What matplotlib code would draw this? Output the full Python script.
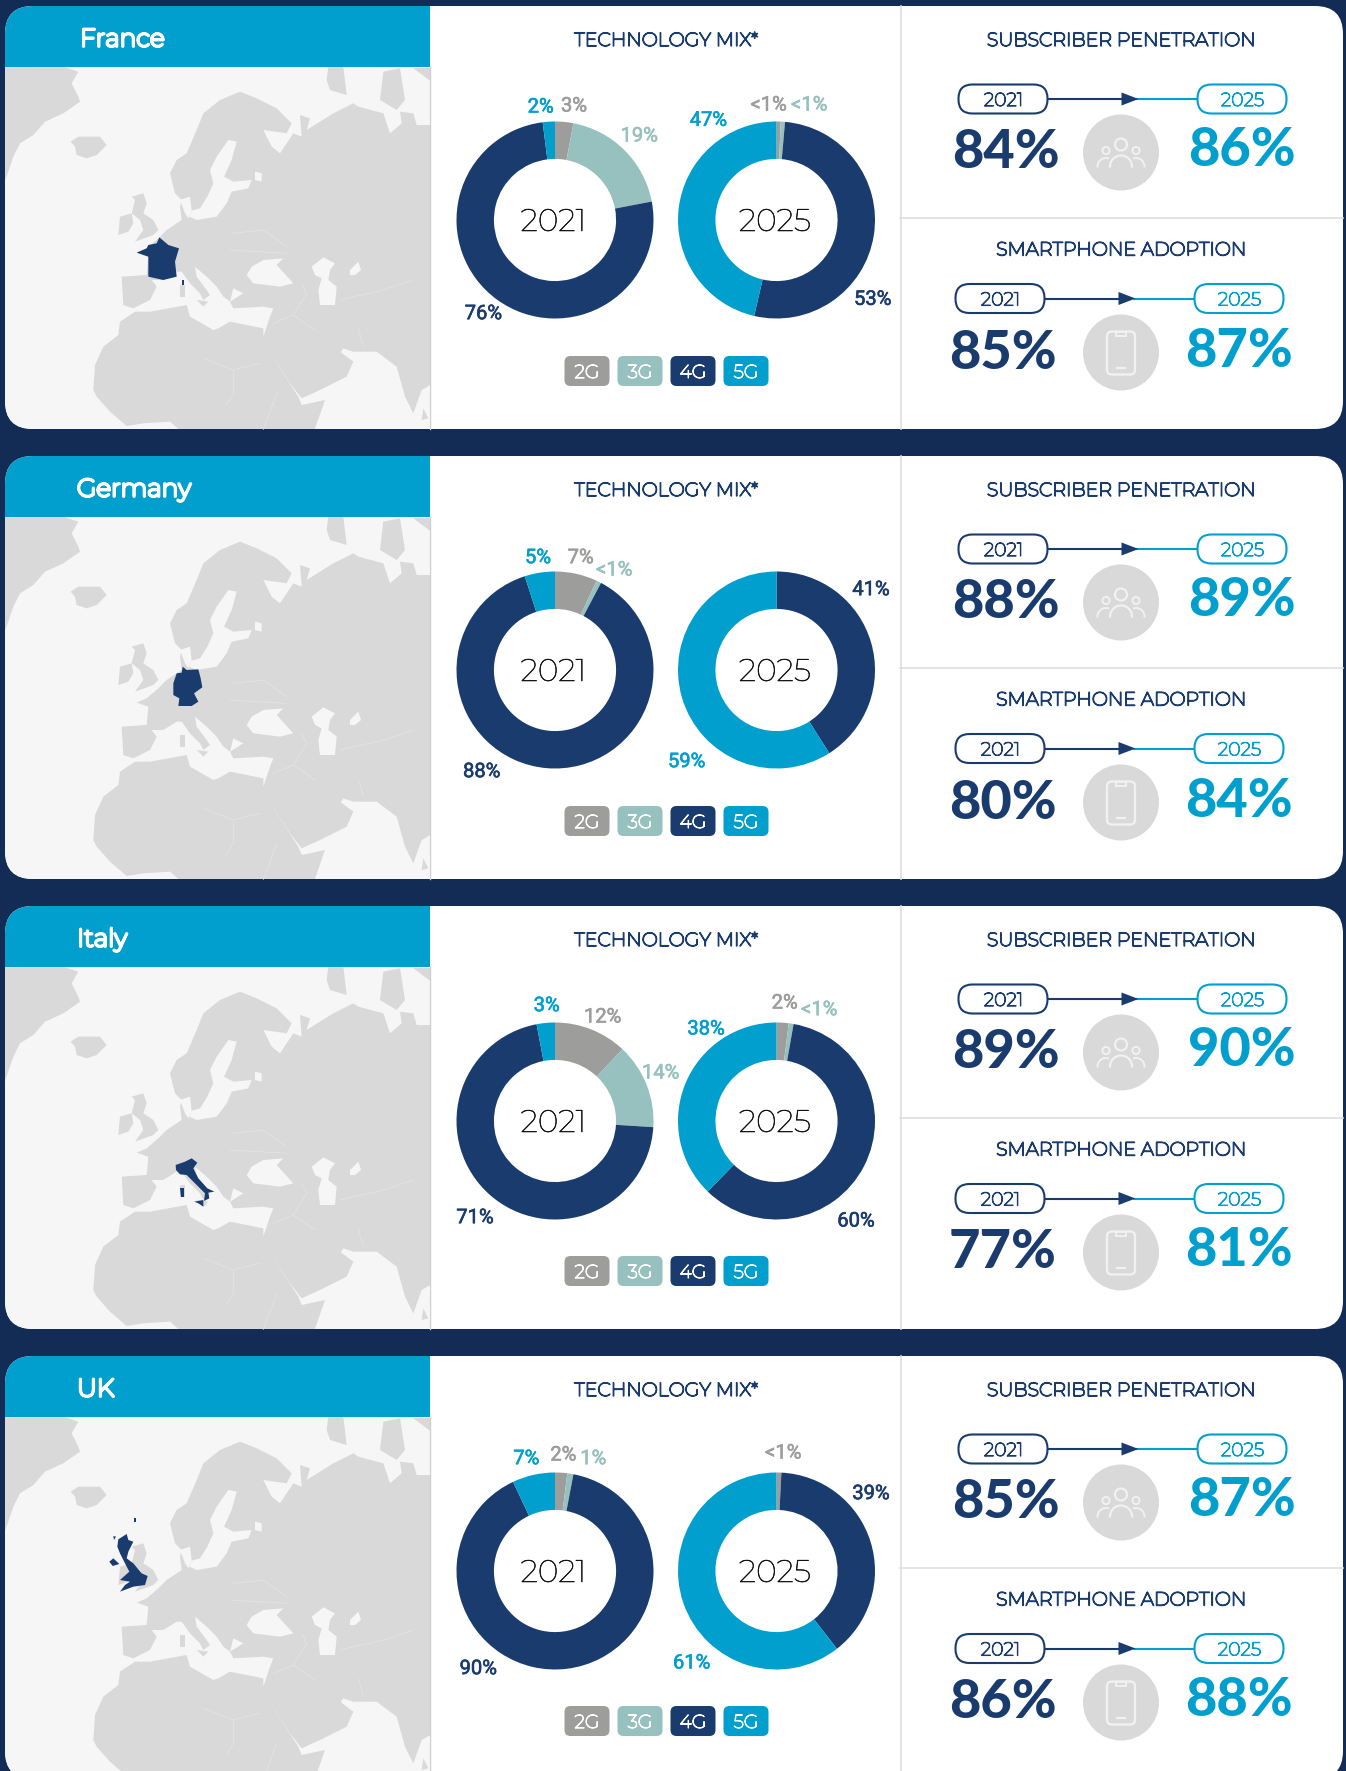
#!/usr/bin/env python3
"""
Mobile market cards: technology mix donuts plus penetration and adoption figures.
"""
import matplotlib
matplotlib.use("Agg")
import matplotlib.patheffects as pe
import matplotlib.pyplot as plt
import numpy as np
from matplotlib.patches import Circle, FancyBboxPatch, Polygon, Rectangle

W, H = 1346, 1771

COUNTRIES = ["France", "Germany", "Italy", "UK"]
TECH_NAMES = ["2G", "3G", "4G", "5G"]

# Share per technology (2G, 3G, 4G, 5G). "<1%" is drawn as an estimated sliver.
MIX_2021 = [
    [3, 19, 76, 2],
    [7, 0.8, 88, 5],
    [12, 14, 71, 3],
    [2, 1, 90, 7],
]
MIX_2025 = [
    [0.7, 0.7, 53, 47],
    [0, 0, 41, 59],
    [2, 0.8, 60, 38],
    [0.8, 0, 39, 61],
]
LABELS_2021 = [
    ["3%", "19%", "76%", "2%"],
    ["7%", "<1%", "88%", "5%"],
    ["12%", "14%", "71%", "3%"],
    ["2%", "1%", "90%", "7%"],
]
LABELS_2025 = [
    ["<1%", "<1%", "53%", "47%"],
    [None, None, "41%", "59%"],
    ["2%", "<1%", "60%", "38%"],
    ["<1%", None, "39%", "61%"],
]

SUBSCRIBER_2021 = ["84%", "88%", "89%", "85%"]
SUBSCRIBER_2025 = ["86%", "89%", "90%", "87%"]
SMARTPHONE_2021 = ["85%", "80%", "77%", "86%"]
SMARTPHONE_2025 = ["87%", "84%", "81%", "88%"]

# Label anchors inside a card, in px at 3x, same order as the technologies.
LABEL_POS_2021 = [
    [(432, 315), (628, 405), (160, 938), (332, 318)],
    [(452, 320), (553, 357), (155, 962), (324, 320)],
    [(518, 348), (692, 516), (135, 950), (350, 314)],
    [(400, 312), (490, 323), (145, 953), (289, 323)],
]
LABEL_POS_2025 = [
    [(1016, 312), (1138, 312), (1328, 895), (835, 358)],
    [None, None, (1323, 416), (770, 932)],
    [(1064, 306), (1168, 326), (1278, 960), (828, 384)],
    [(1060, 306), None, (1323, 428), (785, 936)],
]
TITLE_X = [80, 77, 77, 77]

NAVY = "#1a3b6e"
BLUE = "#009fce"
TEAL = "#97c1be"
GREY = "#9d9d9c"
BG = "#132c55"
LAND = "#d9d9d9"
SEA = "#f6f6f6"
RULE = "#dedede"
TECH_COLORS = [GREY, TEAL, NAVY, BLUE]

HEAD_FONT = ["Montserrat", "Inter", "DejaVu Sans"]
NUMBER_FONT = ["Lato", "DejaVu Sans"]
NARROW_FONT = ["Roboto", "DejaVu Sans"]

# Map outlines, px at 3x on the first card.
LAND_SHAPES = [
    [(0, 200), (190, 200), (235, 215), (215, 250), (235, 290), (240, 305), (190, 340), (135, 365),
     (100, 405), (60, 430), (40, 470), (16, 540), (0, 560)],
    [(212, 425), (235, 410), (300, 410), (320, 435), (290, 465), (260, 475), (230, 465), (225, 440)],
    [(510, 520), (530, 480), (560, 460), (590, 390), (610, 340), (660, 300), (720, 275), (770, 295),
     (830, 325), (875, 370), (860, 400), (790, 390), (815, 440), (840, 460), (880, 400), (905, 410),
     (900, 345), (930, 355), (920, 390), (1000, 340), (1060, 310), (1075, 320), (1150, 340),
     (1170, 400), (1205, 370), (1200, 335), (1240, 340), (1250, 375), (1300, 375), (1300, 1150),
     (1265, 1170), (1240, 1240), (1215, 1190), (1190, 1100), (1130, 1055), (1060, 1055), (1030, 1045),
     (1020, 1060), (985, 1060), (950, 1000), (1000, 1040), (1060, 1085), (1040, 1130), (960, 1170),
     (905, 1195), (870, 1150), (830, 1090), (790, 1010), (810, 950), (820, 925), (790, 920),
     (700, 925), (690, 905), (730, 880), (700, 865), (690, 905), (670, 890), (650, 860), (620, 830),
     (585, 800), (590, 830), (620, 870), (630, 885), (610, 900), (600, 880), (570, 850), (545, 815),
     (530, 815), (490, 840), (455, 840), (470, 860), (450, 900), (400, 925), (370, 915), (365, 830),
     (440, 825), (445, 770), (410, 758), (440, 745), (475, 715), (500, 690), (545, 660), (540, 620),
     (545, 600), (525, 580)],
    [(405, 935), (450, 935), (560, 915), (570, 950), (640, 990), (655, 985), (690, 965), (790, 985),
     (790, 1005), (830, 1090), (895, 1190), (905, 1215), (975, 1200), (940, 1300), (550, 1300),
     (510, 1265), (430, 1270), (380, 1278), (330, 1235), (290, 1190), (280, 1170), (285, 1095),
     (310, 1040), (355, 1005), (360, 965)],
    [(405, 600), (395, 590), (430, 580), (440, 610), (430, 640), (460, 660), (475, 690), (460, 705),
     (405, 725), (430, 690), (420, 660), (395, 640)],
    [(360, 650), (395, 640), (400, 670), (385, 695), (355, 705)],
    [(540, 855), (555, 855), (555, 890), (540, 890)],
    [(590, 900), (625, 905), (610, 920)],
    [(985, 200), (1030, 200), (1040, 285), (990, 270), (980, 240)],
    [(1150, 215), (1200, 205), (1215, 300), (1190, 330), (1140, 300)],
    [(1240, 205), (1300, 205), (1300, 250)],
    [(1270, 1225), (1285, 1255), (1265, 1260)],
]
SEA_SHAPES = [
    [(685, 420), (710, 425), (695, 480), (672, 530), (700, 545), (755, 540), (745, 565), (695, 575),
     (680, 610), (650, 650), (590, 660), (568, 650), (575, 632), (600, 625), (622, 590), (640, 550),
     (630, 510), (650, 470)],
    [(540, 600), (570, 590), (575, 632), (565, 655), (555, 640)],
    [(755, 800), (790, 780), (850, 775), (830, 795), (880, 850), (840, 860), (760, 850), (740, 825)],
    [(935, 800), (970, 772), (1005, 790), (990, 810), (985, 840), (1010, 860), (1005, 915), (960, 915),
     (955, 870), (965, 835), (945, 825)],
    [(1050, 810), (1075, 785), (1083, 810), (1065, 825), (1050, 825)],
    [(765, 515), (785, 520), (785, 545), (765, 540)],
]
# Faint country borders on the grey land.
BORDER_LINES = [
    [(610, 1075), (700, 1110), (780, 1090)],
    [(700, 1110), (700, 1180), (680, 1215)],
    [(830, 1180), (810, 1235), (790, 1288)],
    [(820, 970), (880, 945), (945, 990)],
    [(880, 945), (920, 880), (905, 850)],
    [(1075, 985), (1090, 1040)],
    [(1020, 900), (1150, 870), (1240, 840)],
    [(700, 700), (790, 690), (860, 740)],
    [(690, 750), (860, 760)],
]
FRANCE_SHAPE = [
    [(478, 712), (505, 735), (537, 745), (525, 785), (530, 830), (490, 840), (445, 830), (445, 770),
     (410, 758), (440, 745), (445, 735), (470, 730)],
    [(545, 840), (553, 840), (553, 855), (545, 855)],
]
GERMANY_SHAPE = [
    [(548, 650), (560, 660), (595, 658), (602, 685), (607, 712), (582, 730), (595, 755), (575, 768),
     (535, 768), (538, 745), (520, 735), (520, 700), (530, 670), (545, 668)],
]
ITALY_SHAPE = [
    [(527, 795), (555, 785), (575, 775), (592, 788), (580, 805), (595, 835), (622, 865), (643, 875),
     (625, 878), (628, 895), (612, 903), (615, 880), (585, 850), (560, 825), (540, 823), (528, 810)],
    [(583, 905), (610, 900), (610, 920), (595, 910)],
    [(540, 865), (552, 865), (552, 890), (542, 890)],
]
UK_SHAPE = [
    [(355, 568), (380, 552), (385, 570), (400, 575), (385, 605), (380, 625), (400, 640), (425, 670),
     (443, 678), (435, 705), (400, 710), (360, 725), (375, 705), (390, 695), (360, 690), (388, 665),
     (375, 640), (360, 610), (352, 590)],
    [(328, 635), (340, 625), (358, 642), (338, 648)],
    [(403, 505), (409, 505), (409, 517), (403, 517)],
    [(340, 558), (348, 560), (342, 570)],
]
HIGHLIGHTS = [FRANCE_SHAPE, GERMANY_SHAPE, ITALY_SHAPE, UK_SHAPE]


def arc_xy(cx, cy, rx, ry, a0, a1):
    t = np.radians(np.linspace(a0, a1, 30))
    return cx + rx * np.cos(t), cy + ry * np.sin(t)


def put_text(ax, x, y, text, color, size, stroke, family=None, ha="center"):
    # the installed heading face only comes in its thin cut, so weight is added with a stroke
    t = ax.text(x, y, text, color=color, fontsize=size, family=family or HEAD_FONT,
                ha=ha, va="center", zorder=6)
    t.set_path_effects([pe.withStroke(linewidth=stroke, foreground=color, joinstyle="round")])
    return t


def big_number(ax, x, y, text, color):
    ax.text(x, y, text, color=color, fontsize=39, fontweight="black", family=NUMBER_FONT,
            ha="center", va="center", zorder=6)


def draw_map(ax, card, idx, off):
    def add(points, color):
        xy = np.array(points, dtype=float) / 3 + (0, off)
        patch = Polygon(xy, closed=True, facecolor=color, edgecolor="none", zorder=2)
        ax.add_patch(patch)
        patch.set_clip_path(card)

    for shape in LAND_SHAPES:
        add(shape, LAND)
    for shape in SEA_SHAPES:
        add(shape, SEA)
    for line in BORDER_LINES:
        xy = np.array(line, dtype=float) / 3 + (0, off)
        ax.plot(xy[:, 0], xy[:, 1], color="#e3e3e3", lw=0.6, zorder=2)
    for shape in HIGHLIGHTS[idx]:
        add(shape, NAVY)


def draw_donut(fig, cx, cy, values):
    r = 98.5 * 1.04
    dax = fig.add_axes([(cx - r) / W, 1 - (cy + r) / H, 2 * r / W, 2 * r / H], zorder=3)
    dax.pie(
        values,
        colors=TECH_COLORS,
        startangle=90,
        counterclock=False,
        radius=1,
        wedgeprops={"width": 0.38, "linewidth": 0},
    )
    dax.set_xlim(-1.04, 1.04)
    dax.set_ylim(-1.04, 1.04)
    dax.set_axis_off()


def draw_people(ax, cx, cy):
    c = "#f1f1f1"
    ax.add_patch(Circle((cx, cy - 8), 6, fill=False, ec=c, lw=1.6, zorder=5))
    ax.add_patch(Circle((cx - 15, cy - 2), 3.6, fill=False, ec=c, lw=1.4, zorder=5))
    ax.add_patch(Circle((cx + 15, cy - 2), 3.6, fill=False, ec=c, lw=1.4, zorder=5))
    ax.plot(*arc_xy(cx, cy + 14, 11, 11, 180, 360), color=c, lw=1.6, zorder=5)
    ax.plot(*arc_xy(cx - 15, cy + 14, 8.5, 8.5, 180, 285), color=c, lw=1.4, zorder=5)
    ax.plot(*arc_xy(cx + 15, cy + 14, 8.5, 8.5, 255, 360), color=c, lw=1.4, zorder=5)


def draw_phone(ax, cx, cy):
    c = "#f1f1f1"
    ax.add_patch(FancyBboxPatch((cx - 14, cy - 21), 28, 43, boxstyle="round,pad=0,rounding_size=5",
                                fill=False, ec=c, lw=1.7, zorder=5))
    ax.add_patch(Rectangle((cx - 5, cy - 21), 10, 4, fill=False, ec=c, lw=1.4, zorder=5))
    ax.plot([cx - 4, cx + 4], [cy + 15, cy + 15], color=c, lw=1.6, zorder=5)


def draw_timeline(ax, left, right, y):
    for x0, color, year in ((left, NAVY, "2021"), (right, BLUE, "2025")):
        ax.add_patch(FancyBboxPatch((x0, y - 14.5), 89, 29, boxstyle="round,pad=0,rounding_size=14",
                                    fc="white", ec=color, lw=1.5, zorder=4))
        put_text(ax, x0 + 45, y + 2, year, color, 13.5, 0.8)
    tip = left + 180
    ax.plot([left + 89, tip - 6], [y, y], color=NAVY, lw=1.5, zorder=3)
    ax.plot([tip - 2, right], [y, y], color=BLUE, lw=1.5, zorder=3)
    ax.add_patch(Polygon([(tip - 17, y - 6.5), (tip, y), (tip - 17, y + 6.5)], fc=NAVY, ec="none", zorder=4))


def draw_card(fig, ax, idx):
    off = 450 * idx
    donut_dy = 1 if idx >= 2 else 0
    card = FancyBboxPatch((5, 6 + off), 1338, 423, boxstyle="round,pad=0,rounding_size=28",
                          fc="white", ec="none", zorder=1)
    ax.add_patch(card)

    sea = Rectangle((5, 67 + off), 424, 362, fc=SEA, ec="none", zorder=1.5)
    ax.add_patch(sea)
    sea.set_clip_path(card)
    draw_map(ax, card, idx, off)
    # white column covers whatever land runs past the map's right edge
    ax.add_patch(Rectangle((430, 6 + off), 470, 423, fc="white", ec="none", zorder=2.5))
    header = Rectangle((5, 6 + off), 424.5, 61, fc=BLUE, ec="none", zorder=3)
    ax.add_patch(header)
    header.set_clip_path(card)
    put_text(ax, TITLE_X[idx], 40 + off, COUNTRIES[idx], "white", 18, 2.0, ha="left")

    ax.plot([429.5, 429.5], [67 + off, 429 + off], color="#cfcfcf", lw=1, zorder=4)
    ax.plot([900.5, 900.5], [6 + off, 429 + off], color=RULE, lw=1.2, zorder=4)
    ax.plot([900, 1343], [218 + off, 218 + off], color=RULE, lw=1.2, zorder=4)

    put_text(ax, 666, 41 + off, "TECHNOLOGY MIX*", NAVY, 13.7, 1.0)
    put_text(ax, 1121, 41 + off, "SUBSCRIBER PENETRATION", NAVY, 13.7, 1.0)
    put_text(ax, 1121, 250.5 + off, "SMARTPHONE ADOPTION", NAVY, 13.7, 1.0)

    for cx, year, mix, labels, pos in (
        (555, "2021", MIX_2021[idx], LABELS_2021[idx], LABEL_POS_2021[idx]),
        (776.5, "2025", MIX_2025[idx], LABELS_2025[idx], LABEL_POS_2025[idx]),
    ):
        cy = 220 + off + donut_dy
        draw_donut(fig, cx, cy, mix)
        put_text(ax, cx - 1.5, cy + 3, year, "#111111", 22.5, 0.4)
        for label, xy, color in zip(labels, pos, TECH_COLORS):
            if label is None:
                continue
            put_text(ax, 430 + xy[0] / 3, xy[1] / 3 + off + 1, label, color, 14.5, 0.45, family=NARROW_FONT)

    for k, (name, color) in enumerate(zip(TECH_NAMES, TECH_COLORS)):
        x0 = 564.5 + 53 * k
        ax.add_patch(FancyBboxPatch((x0, 356 + off), 45, 30, boxstyle="round,pad=0,rounding_size=6",
                                    fc=color, ec="none", zorder=4))
        put_text(ax, x0 + 22.5, 373 + off, name, "white", 13.5, 0.8)

    draw_timeline(ax, 958.5, 1197.5, 99 + off)
    big_number(ax, 1006, 152 + off, SUBSCRIBER_2021[idx], NAVY)
    big_number(ax, 1242, 150 + off, SUBSCRIBER_2025[idx], BLUE)
    ax.add_patch(Circle((1121, 152.5 + off), 38, fc=LAND, ec="none", zorder=4))
    draw_people(ax, 1121, 152.5 + off)

    draw_timeline(ax, 955.5, 1194.5, 298.5 + off)
    big_number(ax, 1003, 353 + off, SMARTPHONE_2021[idx], NAVY)
    big_number(ax, 1239, 351 + off, SMARTPHONE_2025[idx], BLUE)
    ax.add_patch(Circle((1121, 352.5 + off), 38, fc=LAND, ec="none", zorder=4))
    draw_phone(ax, 1121, 352.5 + off)


def main():
    fig = plt.figure(figsize=(W / 100, H / 100), dpi=100, facecolor=BG)
    ax = fig.add_axes([0, 0, 1, 1])
    ax.set_xlim(0, W)
    ax.set_ylim(H, 0)
    ax.set_axis_off()
    for idx in range(len(COUNTRIES)):
        draw_card(fig, ax, idx)
    fig.savefig("out.png", dpi=100, facecolor=BG)
    plt.close(fig)


if __name__ == "__main__":
    main()
